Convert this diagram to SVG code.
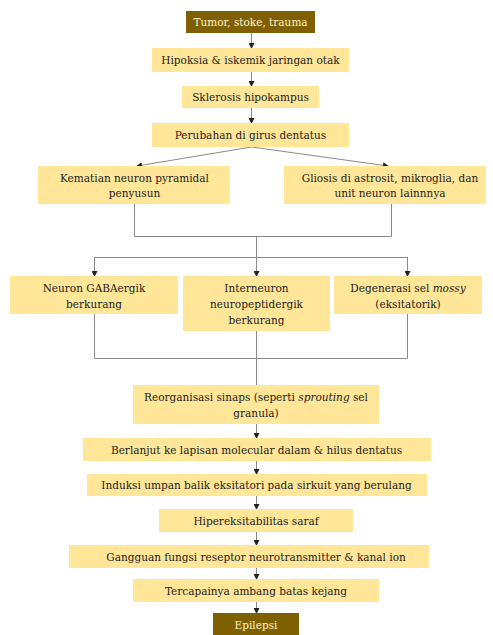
<svg xmlns="http://www.w3.org/2000/svg" width="493" height="635" viewBox="0 0 493 635">
<defs>
<marker id="ah" markerWidth="6" markerHeight="6" refX="5" refY="3" orient="auto" markerUnits="userSpaceOnUse">
<path d="M0,0 L6,3 L0,6 Z" fill="#222"/>
</marker>
<style>
.n{fill:#ffe699}
.d{fill:#7f6000}
.t{font-family:'DejaVu Serif Condensed','DejaVu Serif',serif;font-stretch:condensed;font-size:11.7px;fill:#222;text-anchor:middle}
.w{fill:#fff2cc}
.c{stroke:#8a8a8a;stroke-width:1;fill:none}
.a{marker-end:url(#ah)}
</style>
</defs>
<rect width="493" height="635" fill="#fff"/>
<g id="connectors">
<line class="c a" x1="251.5" y1="33" x2="251.5" y2="48"/>
<line class="c a" x1="251.5" y1="72" x2="251.5" y2="86"/>
<line class="c a" x1="251.5" y1="108" x2="251.5" y2="123"/>
<line class="c a" x1="251.5" y1="147" x2="137" y2="166"/>
<line class="c a" x1="251.5" y1="147" x2="388" y2="166"/>
<path class="c" d="M134.5,204 V236.5 H391.5 V204"/>
<line class="c" x1="256.5" y1="236" x2="256.5" y2="385"/>
<path class="c" d="M94.5,257.5 H407.5"/>
<line class="c a" x1="94.5" y1="257" x2="94.5" y2="276"/>
<line class="c a" x1="256.5" y1="257" x2="256.5" y2="276"/>
<line class="c a" x1="407.5" y1="257" x2="407.5" y2="276"/>
<path class="c" d="M94.5,314 V358.5 H407.5 V314"/>
<line class="c a" x1="256.5" y1="424" x2="256.5" y2="438"/>
<line class="c a" x1="256.5" y1="461" x2="256.5" y2="474"/>
<line class="c a" x1="256.5" y1="496" x2="256.5" y2="509"/>
<line class="c a" x1="256.5" y1="532" x2="256.5" y2="545"/>
<line class="c a" x1="256.5" y1="568" x2="256.5" y2="579"/>
<line class="c a" x1="256.5" y1="602" x2="256.5" y2="613"/>
</g>
<g id="n1"><rect class="d" x="186" y="11" width="129" height="22"/><text class="t w" x="250.5" y="26">Tumor, stoke, trauma</text></g>
<g id="n2"><rect class="n" x="152" y="48" width="197" height="24"/><text class="t" x="250.5" y="64">Hipoksia &amp; iskemik jaringan otak</text></g>
<g id="n3"><rect class="n" x="182" y="86" width="137" height="22"/><text class="t" x="250.5" y="101">Sklerosis hipokampus</text></g>
<g id="n4"><rect class="n" x="152" y="123" width="197" height="24"/><text class="t" x="250.5" y="139">Perubahan di girus dentatus</text></g>
<g id="n5"><rect class="n" x="38" y="166" width="192" height="38"/><text class="t" x="134.5" y="182">Kematian neuron pyramidal</text><text class="t" x="134.5" y="197">penyusun</text></g>
<g id="n6"><rect class="n" x="284" y="166" width="202" height="38"/><text class="t" x="390" y="182">Gliosis di astrosit, mikroglia, dan</text><text class="t" x="390" y="197">unit neuron lainnnya</text></g>
<g id="n7"><rect class="n" x="10" y="276" width="168" height="38"/><text class="t" x="94" y="292">Neuron GABAergik</text><text class="t" x="94" y="307.5">berkurang</text></g>
<g id="n8"><rect class="n" x="183" y="276" width="147" height="55"/><text class="t" x="256.5" y="292">Interneuron</text><text class="t" x="256.5" y="307.5">neuropeptidergik</text><text class="t" x="256.5" y="323.5">berkurang</text></g>
<g id="n9"><rect class="n" x="334" y="276" width="148" height="38"/><text class="t" x="408" y="292">Degenerasi sel <tspan font-style="italic">mossy</tspan></text><text class="t" x="408" y="307.5">(eksitatorik)</text></g>
<g id="n10"><rect class="n" x="133" y="385" width="246" height="39"/><text class="t" x="256" y="400.5">Reorganisasi sinaps (seperti <tspan font-style="italic">sprouting</tspan> sel</text><text class="t" x="256" y="416.5">granula)</text></g>
<g id="n11"><rect class="n" x="83" y="438" width="348" height="23"/><text class="t" x="256.5" y="453.5">Berlanjut ke lapisan molecular dalam &amp; hilus dentatus</text></g>
<g id="n12"><rect class="n" x="87" y="474" width="340" height="22"/><text class="t" x="256.5" y="489">Induksi umpan balik eksitatori pada sirkuit yang berulang</text></g>
<g id="n13"><rect class="n" x="159" y="509" width="194" height="23"/><text class="t" x="256" y="524.5">Hipereksitabilitas saraf</text></g>
<g id="n14"><rect class="n" x="69" y="545" width="360" height="23"/><text class="t" x="256" y="560.5">Gangguan fungsi reseptor neurotransmitter &amp; kanal ion</text></g>
<g id="n15"><rect class="n" x="133" y="579" width="246" height="23"/><text class="t" x="256" y="594.5">Tercapainya ambang batas kejang</text></g>
<g id="n16"><rect class="d" x="213" y="613" width="86" height="24"/><text class="t w" x="256" y="628.5">Epilepsi</text></g>
</svg>
